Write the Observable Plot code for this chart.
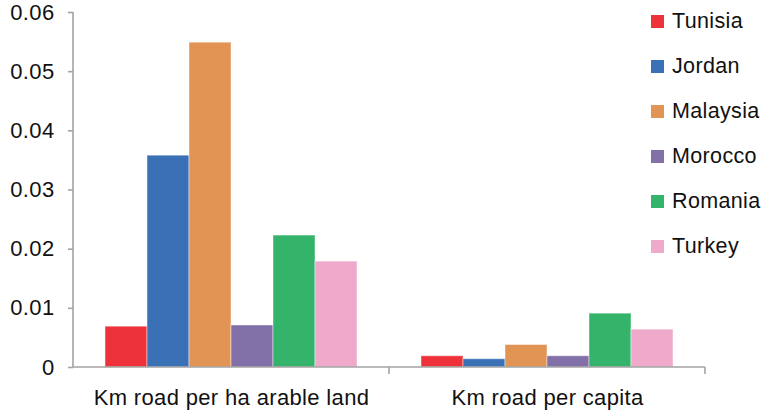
<!DOCTYPE html>
<html><head><meta charset="utf-8">
<script src="https://cdn.jsdelivr.net/npm/d3@7"></script>
<script src="https://cdn.jsdelivr.net/npm/@observablehq/plot@0.6"></script>
<style>
body{margin:0;background:#fff;}
#wrap{position:relative;width:763px;height:413px;font-family:"Liberation Sans",Arial,sans-serif;}
#legend{position:absolute;left:651px;top:-1.5px;}
.row{display:flex;align-items:center;height:45px;font-size:21.5px;letter-spacing:0.35px;color:#111;}
.sw{width:13px;height:13px;margin-right:8px;flex:none;}
</style></head>
<body><div id="wrap"><div id="legend"></div></div>
<script>
const groups = ["Km road per ha arable land", "Km road per capita"];
const countries = ["Tunisia", "Jordan", "Malaysia", "Morocco", "Romania", "Turkey"];
const colors = ["#ee3239", "#3a70b6", "#e29455", "#8270a8", "#33b46a", "#efa9cb"];
const perHaArable = [0.0069, 0.0358, 0.0549, 0.0071, 0.0223, 0.0179];
const perCapita = [0.0019, 0.0014, 0.0038, 0.0019, 0.0091, 0.0064];
const yTicks = [0, 0.01, 0.02, 0.03, 0.04, 0.05, 0.06];
const yTickLabels = ["0", "0.01", "0.02", "0.03", "0.04", "0.05", "0.06"];

const AXIS = "#a3a3a3";
const seriesByGroup = [perHaArable, perCapita];
const data = [];
groups.forEach((g, gi) => countries.forEach((c, ci) => data.push({group: g, country: c, value: seriesByGroup[gi][ci]})));
const axisData = groups.map((g, i) => ({group: g, first: i === 0}));

const chart = Plot.plot({
  width: 763,
  height: 413,
  marginLeft: 72,
  marginRight: 58,
  marginTop: 12,
  marginBottom: 46,
  style: {fontFamily: "'Liberation Sans', Arial, sans-serif", fontSize: "22px", letterSpacing: "0.35px", color: "#111", background: "white"},
  fx: {domain: groups, padding: 0, label: null},
  x: {domain: countries, paddingInner: 0, paddingOuter: 0.75, axis: null},
  y: {domain: [0, 0.06], label: null},
  color: {domain: countries, range: colors},
  marks: [
    Plot.barY(data, {fx: "group", x: "country", y: "value", fill: "country", stroke: "white", strokeOpacity: 0.45, strokeWidth: 1}),
    Plot.ruleY(axisData, {fx: "group", y: () => 0, render(index, scales, values, dimensions, context) {
      const g = d3.create("svg:g").attr("stroke", AXIS).attr("stroke-width", 1.6).attr("fill", "none");
      if (!index.length) return g.node();
      const [x0, x1] = scales.x.range();
      const y0 = scales.y(0);
      const yTop = scales.y(yTicks[yTicks.length - 1]);
      g.append("line").attr("x1", x0).attr("x2", x1).attr("y1", y0).attr("y2", y0);
      g.append("line").attr("x1", x1).attr("x2", x1).attr("y1", y0).attr("y2", y0 + 7);
      if (axisData[index[0]].first) {
        g.append("line").attr("x1", x0).attr("x2", x0).attr("y1", yTop).attr("y2", y0);
      }
      return g.node();
    }}),
    Plot.axisY({ticks: yTicks, tickFormat: (d) => yTickLabels[yTicks.indexOf(d)], tickSize: 5, tickPadding: 14, stroke: AXIS, strokeWidth: 1.6, strokeOpacity: 1, fill: "#111", label: null}),
    Plot.axisFx({anchor: "bottom", tickSize: 0, tickPadding: 22, label: null, fill: "#111"})
  ]
});
document.getElementById("wrap").prepend(chart);

const legend = document.getElementById("legend");
countries.forEach((c, i) => {
  const row = document.createElement("div");
  row.className = "row";
  const sw = document.createElement("span");
  sw.className = "sw";
  sw.style.background = colors[i];
  const t = document.createElement("span");
  t.textContent = c;
  row.append(sw, t);
  legend.append(row);
});
</script>
</body></html>
